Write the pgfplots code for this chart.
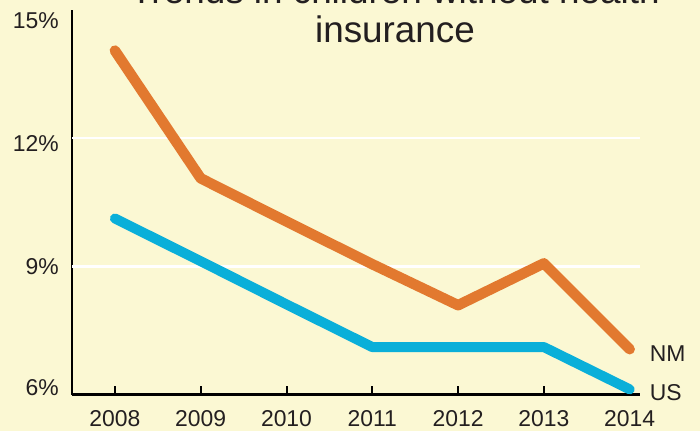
\documentclass[border=0pt]{standalone}
\usepackage{pgfplots}
\pgfplotsset{compat=1.18}
\usepackage{fontspec}
\setmainfont{Liberation Sans}
\definecolor{bg}{HTML}{FBF8D3}
\definecolor{nm}{HTML}{E2792F}
\definecolor{us}{HTML}{0AAFD9}
\definecolor{txt}{HTML}{231F20}
\begin{document}
\begin{tikzpicture}
\path[use as bounding box] (0,0) rectangle (700bp,431bp);
\fill[bg] (0,0) rectangle (700bp,431bp);
\begin{axis}[
  at={(72bp,36.5bp)}, anchor=south west,
  scale only axis, width=568bp, height=384.5bp,
  xmin=2007.5, xmax=2014.12, ymin=6, ymax=15,
  axis x line*=bottom, axis y line*=left,
  axis line style={black, line width=2bp},
  clip=false,
  xtick={2008,2009,2010,2011,2012,2013,2014},
  xticklabels={2008,2009,2010,2011,2012,2013,2014},
  ytick={6,9,12,15},
  yticklabels={\raisebox{-1.25bp}[0pt][0pt]{6\%},\raisebox{-8.25bp}[0pt][0pt]{9\%},\raisebox{-12.9bp}[0pt][0pt]{12\%},\raisebox{-18.25bp}[0pt][0pt]{15\%}},
  tick align=inside,
  major tick length=9bp,
  xtick style={black, line width=2bp},
  ytick style={draw=none},
  extra y ticks={9,12},
  extra y tick labels={},
  extra y tick style={grid=major, major grid style={white, line width=2.5bp}, major tick length=0pt},
  tick label style={font=\fontsize{23}{27}\selectfont, text=txt, inner sep=0pt},
  xticklabel style={anchor=north, yshift=-16bp},
  yticklabel style={anchor=east, xshift=-13bp},
]
\addplot[nm, line width=10.5bp, line cap=round, line join=round] coordinates {
  (2008,14.05) (2009,11.06) (2010,10.05) (2011,9.05) (2012,8.09) (2013,9.07) (2014,7.06)};
\addplot[us, line width=10bp, line cap=round, line join=round] coordinates {
  (2008,10.12) (2009,9.12) (2010,8.11) (2011,7.11) (2012,7.11) (2013,7.11) (2014,6.12)};
\node[anchor=west, inner sep=0pt, font=\fontsize{23}{27}\selectfont, text=txt] at (axis cs:2014,7.06) [xshift=20bp, yshift=-4bp] {NM};
\node[anchor=west, inner sep=0pt, font=\fontsize{23}{27}\selectfont, text=txt] at (axis cs:2014,6.12) [xshift=20bp, yshift=-3bp] {US};
\end{axis}
\node[anchor=base, inner sep=0pt, font=\fontsize{37}{39}\selectfont, text=txt] at (395bp,388bp) {insurance};
\node[anchor=base, inner sep=0pt, font=\fontsize{37}{39}\selectfont, text=txt] at (395bp,427bp) {Trends in children without health};
\end{tikzpicture}
\end{document}
